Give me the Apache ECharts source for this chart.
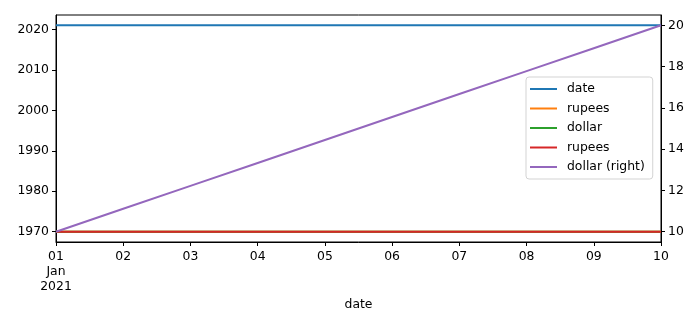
<!DOCTYPE html>
<html><head><meta charset="utf-8">
<script src="https://cdn.jsdelivr.net/npm/echarts@6/dist/echarts.min.js"></script>
<style>html,body{margin:0;padding:0;background:#fff}#c{width:700px;height:327px}</style>
</head><body><div id="c"></div>
<script>
var categories = ['01','02','03','04','05','06','07','08','09','10'];
var dateVals = [2021,2021,2021,2021,2021,2021,2021,2021,2021,2021];
var rupeesVals = [1970,1970,1970,1970,1970,1970,1970,1970,1970,1970];
var dollarVals = [1970,1970,1970,1970,1970,1970,1970,1970,1970,1970];
var rupees2Vals = [1970,1970,1970,1970,1970,1970,1970,1970,1970,1970];
var dollarRightVals = [10,11.11,12.22,13.33,14.44,15.56,16.67,17.78,18.89,20];
var leftTicks = [1970,1980,1990,2000,2010,2020];
var rightTicks = [10,12,14,16,18,20];

var font = 'DejaVu Sans';
var fs = 12.4;
function mk(name, data, color, yi, z){
  return {name:name, type:'line', data:data, yAxisIndex:yi, symbol:'none', z:z,
    lineStyle:{width:2, color:color}, itemStyle:{color:color}, animation:false};
}
var chart = echarts.init(document.getElementById('c'));
chart.setOption({
  animation:false,
  textStyle:{fontFamily:font},
  grid:{left:56, right:39, top:15, bottom:85, show:true, borderColor:'#000', borderWidth:1, backgroundColor:'transparent'},
  legend:{
    orient:'vertical', left:526, top:77, padding:[5,8,5,4],
    icon:'rect', itemWidth:27, itemHeight:2, itemGap:5.5,
    backgroundColor:'#fff', borderColor:'#d3d3d3', borderWidth:1, borderRadius:3,
    textStyle:{fontFamily:font, fontSize:fs, color:'#000', padding:[0,0,0,5], lineHeight:14},
    data:['date','rupees','dollar','rupees ','dollar (right)']
  },
  xAxis:{
    type:'category', data:categories, boundaryGap:false,
    name:'date', nameLocation:'middle', nameGap:54,
    nameTextStyle:{fontFamily:font, fontSize:fs, color:'#000'},
    axisLine:{show:true, lineStyle:{color:'#000', width:1}},
    axisTick:{show:true, alignWithLabel:true, inside:false, length:4, lineStyle:{color:'#000'}},
    axisLabel:{fontFamily:font, fontSize:fs, color:'#000', margin:7, lineHeight:15,
      formatter:function(v,i){ return i===0 ? '01\nJan\n2021' : v; }},
    splitLine:{show:false}
  },
  yAxis:[{
    type:'value', position:'left', min:1967.45, max:2023.55,
    axisLine:{show:true, lineStyle:{color:'#000'}},
    axisTick:{show:true, length:4, lineStyle:{color:'#000'}, customValues:leftTicks},
    axisLabel:{fontFamily:font, fontSize:fs, color:'#000', margin:7, customValues:leftTicks,
      formatter:function(v){ return String(v); }},
    splitLine:{show:false}
  },{
    type:'value', position:'right', min:9.5, max:20.5,
    axisLine:{show:true, lineStyle:{color:'#000'}},
    axisTick:{show:true, length:4, lineStyle:{color:'#000'}, customValues:rightTicks},
    axisLabel:{fontFamily:font, fontSize:fs, color:'#000', margin:7, customValues:rightTicks,
      formatter:function(v){ return String(v); }},
    splitLine:{show:false}
  }],
  series:[
    mk('date', dateVals, '#1f77b4', 0, 2),
    mk('rupees', rupeesVals, '#ff7f0e', 0, 3),
    mk('dollar', dollarVals, '#2ca02c', 0, 4),
    mk('rupees ', rupees2Vals, '#d62728', 0, 5),
    mk('dollar (right)', dollarRightVals, '#9467bd', 1, 6)
  ]
});
</script></body></html>
